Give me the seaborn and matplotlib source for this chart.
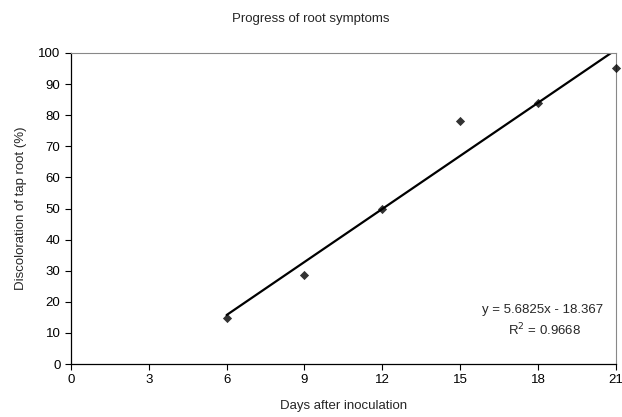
import numpy as np
import pandas as pd
import matplotlib
matplotlib.use("Agg")
import matplotlib.pyplot as plt
import seaborn as sns

# Datos
dias = [6, 9, 12, 15, 18, 21]
decoloracion = [14.8, 28.5, 49.7, 78.1, 84.0, 95.2]
ecuacion = "y = 5.6825x - 18.367"
r2 = "R$^2$ = 0.9668"

sns.set_style("white")
plt.rcParams['font.family'] = ['Liberation Sans', 'DejaVu Sans']

df = pd.DataFrame({'dias': dias, 'decoloracion': decoloracion})

fig = plt.figure(figsize=(6.22, 4.17), dpi=100)
ax = fig.add_axes([0.114, 0.127, 0.876, 0.746])

sns.regplot(data=df, x='dias', y='decoloracion', ci=None, truncate=True,
            marker='D', color='black',
            scatter_kws={'s': 22, 'linewidths': 0, 'clip_on': False,
                         'zorder': 5},
            line_kws={'linewidth': 1.6, 'color': 'black'}, ax=ax)

ax.set_xlim(0, 21)
ax.set_ylim(0, 100)
ax.set_xticks(range(0, 22, 3))
ax.set_yticks(range(0, 101, 10))
ax.tick_params(axis='both', direction='out', length=4, width=0.8,
               labelsize=9.5, colors='black', left=True, bottom=True)

for lado in ['top', 'right']:
    ax.spines[lado].set_color('#888888')
    ax.spines[lado].set_linewidth(0.8)
for lado in ['left', 'bottom']:
    ax.spines[lado].set_color('black')
    ax.spines[lado].set_linewidth(0.9)

ax.set_xlabel('Days after inoculation', fontsize=9.5, labelpad=10)
ax.set_ylabel('Discoloration of tap root (%)', fontsize=9.5, labelpad=8)

ax.text(0.866, 0.173, ecuacion, transform=ax.transAxes, ha='center',
        va='center', fontsize=9.5)
ax.text(0.869, 0.109, r2, transform=ax.transAxes, ha='center',
        va='center', fontsize=9.5)

fig.text(0.5, 0.955, 'Progress of root symptoms', ha='center', va='center',
         fontsize=9.5)

fig.savefig('out.png', dpi=100)
